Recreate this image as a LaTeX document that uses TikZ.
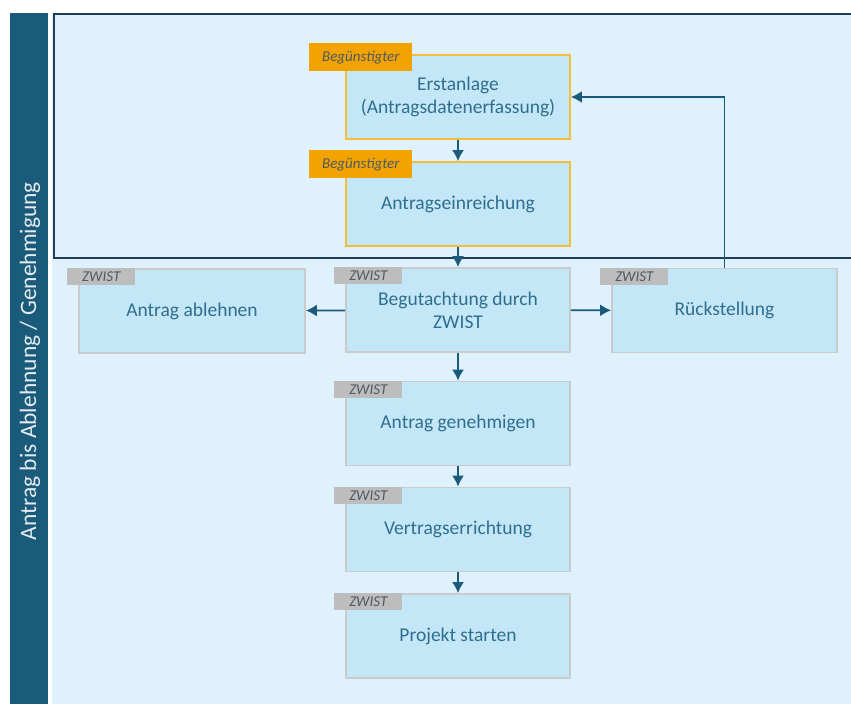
\documentclass[tikz,border=0pt]{standalone}
\usepackage{fontspec}
\setmainfont{Carlito}
\usepackage{tikz}
\usetikzlibrary{arrows.meta}

\definecolor{barblue}{HTML}{1A5B7B}
\definecolor{panelblue}{HTML}{DFF1FC}
\definecolor{boxblue}{HTML}{C3E7F7}
\definecolor{framenavy}{HTML}{1F3D5C}
\definecolor{txtblue}{HTML}{2F6E8E}
\definecolor{tagorange}{HTML}{F2A300}
\definecolor{lineorange}{HTML}{F4BE3A}
\definecolor{taggray}{HTML}{BDBDBD}
\definecolor{linegray}{HTML}{C9CBCC}
\definecolor{tagtext}{HTML}{4E5A62}

\tikzset{
  stepbox/.style={draw=linegray, line width=1.8pt, fill=boxblue, text=txtblue,
    minimum width=224pt, minimum height=84pt, align=center, inner sep=0pt,
    font=\fontsize{19.5}{23}\selectfont},
  userbox/.style={stepbox, draw=lineorange},
  bentag/.style={fill=tagorange, text=tagtext, anchor=north west,
    minimum width=103pt, minimum height=28pt, inner sep=0pt,
    font=\fontsize{15}{17}\selectfont\itshape},
  zwisttag/.style={fill=taggray, anchor=north west,
    minimum width=68pt, minimum height=17pt, inner sep=0pt, text=tagtext,
    font=\fontsize{15}{17}\selectfont\itshape},
  flow/.style={draw=barblue, line width=1.8pt, -{Latex[length=11pt,width=12pt]}}
}

\begin{document}
\begin{tikzpicture}[x=1pt,y=-1pt]
  \useasboundingbox (0,0) rectangle (851,704);
  % lane
  \fill[barblue] (10,13) rectangle (48,704);
  \fill[panelblue] (52,13) rectangle (851,704);
  \node[rotate=90, text=white!88!barblue, font=\fontsize{23.5}{26}\selectfont] (lane) at (30,361)
    {Antrag bis Ablehnung / Genehmigung};
  % frame around the applicant steps
  \draw[framenavy, line width=2pt] (54,14) rectangle (853,258);

  % steps
  \node[userbox] (erst) at (458,97) {Erstanlage\\(Antragsdatenerfassung)};
  \node[userbox] (einr) at (458,204) {Antragseinreichung};
  \node[stepbox] (gut) at (458,310) {Begutachtung durch\\ZWIST};
  \node[stepbox, minimum width=226pt] (ableh) at (192,311) {Antrag ablehnen};
  \node[stepbox, minimum width=225pt] (rueck) at (724.5,310.5) {Rückstellung};
  \node[stepbox] (gen) at (458,423.5) {Antrag genehmigen};
  \node[stepbox] (vert) at (458,529.5) {Vertragserrichtung};
  \node[stepbox] (proj) at (458,636) {Projekt starten};

  % role tags
  \node[bentag] (t1) at ([shift={(-36,-11)}]erst.north west) {Begünstigter};
  \node[bentag] (t2) at ([shift={(-36,-11)}]einr.north west) {Begünstigter};
  \foreach \b in {gut,ableh,rueck,gen,vert,proj}
    \node[zwisttag] (z\b) at ([shift={(-11,0)}]\b.north west) {ZWIST};

  % connectors
  \draw[flow] (erst) -- (einr);
  \draw[flow] (einr) -- (gut);
  \draw[flow] (gut) -- (ableh);
  \draw[flow] (gut) -- (rueck);
  \draw[flow] (gut) -- (gen);
  \draw[flow] (gen) -- (vert);
  \draw[flow] (vert) -- (proj);
  \draw[flow] (rueck.north) |- (erst.east);
\end{tikzpicture}
\end{document}
